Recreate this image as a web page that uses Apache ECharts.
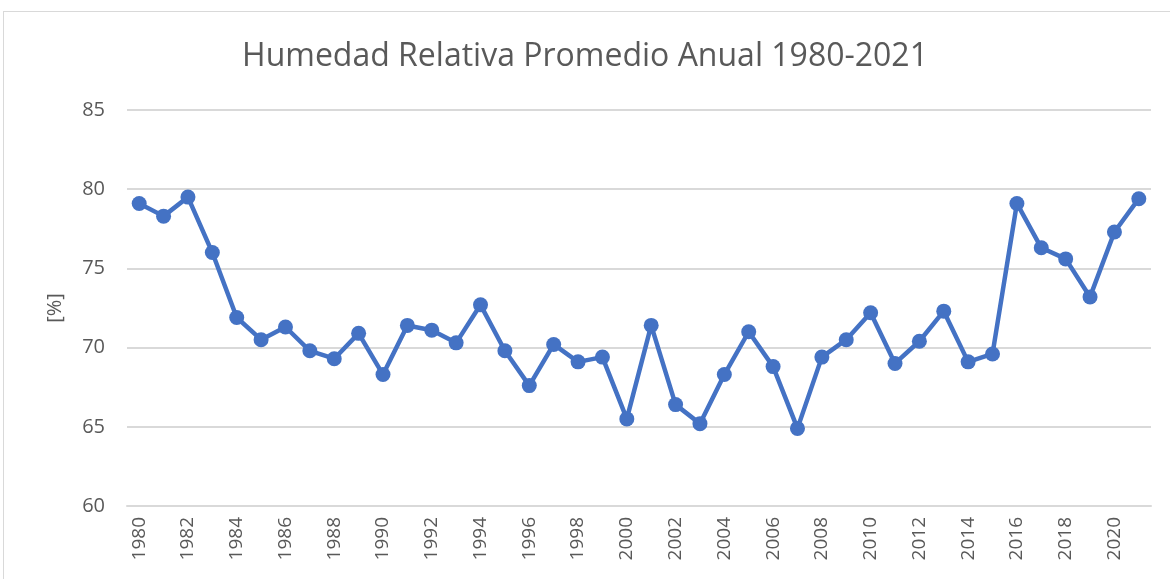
<!DOCTYPE html>
<html>
<head>
<meta charset="utf-8">
<script src="https://cdn.jsdelivr.net/npm/echarts@6/dist/echarts.min.js"></script>
<style>
html,body{margin:0;padding:0;background:#fff;}
#frame{position:absolute;left:3px;top:11px;width:1175px;height:580px;border:1px solid #d9d9d9;box-sizing:border-box;}
#chart{position:absolute;left:0;top:0;width:1170px;height:579px;}
</style>
</head>
<body>
<div id="frame"></div>
<div id="chart"></div>
<script>
const years = ["1980","1981","1982","1983","1984","1985","1986","1987","1988","1989",
"1990","1991","1992","1993","1994","1995","1996","1997","1998","1999",
"2000","2001","2002","2003","2004","2005","2006","2007","2008","2009",
"2010","2011","2012","2013","2014","2015","2016","2017","2018","2019",
"2020","2021"];
const humidity = [79.1,78.3,79.5,76.0,71.9,70.5,71.3,69.8,69.3,70.9,
68.3,71.4,71.1,70.3,72.7,69.8,67.6,70.2,69.1,69.4,
65.5,71.4,66.4,65.2,68.3,71.0,68.8,64.9,69.4,70.5,
72.2,69.0,70.4,72.3,69.1,69.6,79.1,76.3,75.6,73.2,
77.3,79.4];
const titleText = "Humedad Relativa Promedio Anual 1980-2021";
const yName = "[%]";

const chart = echarts.init(document.getElementById('chart'), null, {renderer:'canvas'});
chart.setOption({
  animation:false,
  backgroundColor:'transparent',
  title:{
    text:titleText,
    left:'center',
    top:36,
    textStyle:{fontFamily:'Open Sans',fontWeight:'normal',fontSize:32,color:'#595959'}
  },
  grid:{left:127,right:19,top:110,bottom:73},
  xAxis:{
    type:'category',
    data:years,
    boundaryGap:true,
    axisLine:{show:true,lineStyle:{color:'#d9d9d9',width:2}},
    axisTick:{show:false},
    axisLabel:{interval:1,rotate:90,color:'#595959',fontFamily:'Open Sans',fontSize:19,margin:11}
  },
  yAxis:{
    type:'value',
    min:60,max:85,interval:5,
    name:yName,
    nameLocation:'middle',
    nameGap:62,
    nameRotate:90,
    nameTextStyle:{color:'#595959',fontFamily:'Open Sans',fontSize:20},
    axisLine:{show:false},
    axisTick:{show:false},
    splitLine:{lineStyle:{color:'#d9d9d9',width:2}},
    axisLabel:{color:'#595959',fontFamily:'Open Sans',fontSize:20,margin:22}
  },
  series:[{
    type:'line',
    data:humidity,
    symbol:'circle',
    symbolSize:15,
    lineStyle:{color:'#4472C4',width:4.5},
    itemStyle:{color:'#4472C4'}
  }]
});
</script>
</body>
</html>
